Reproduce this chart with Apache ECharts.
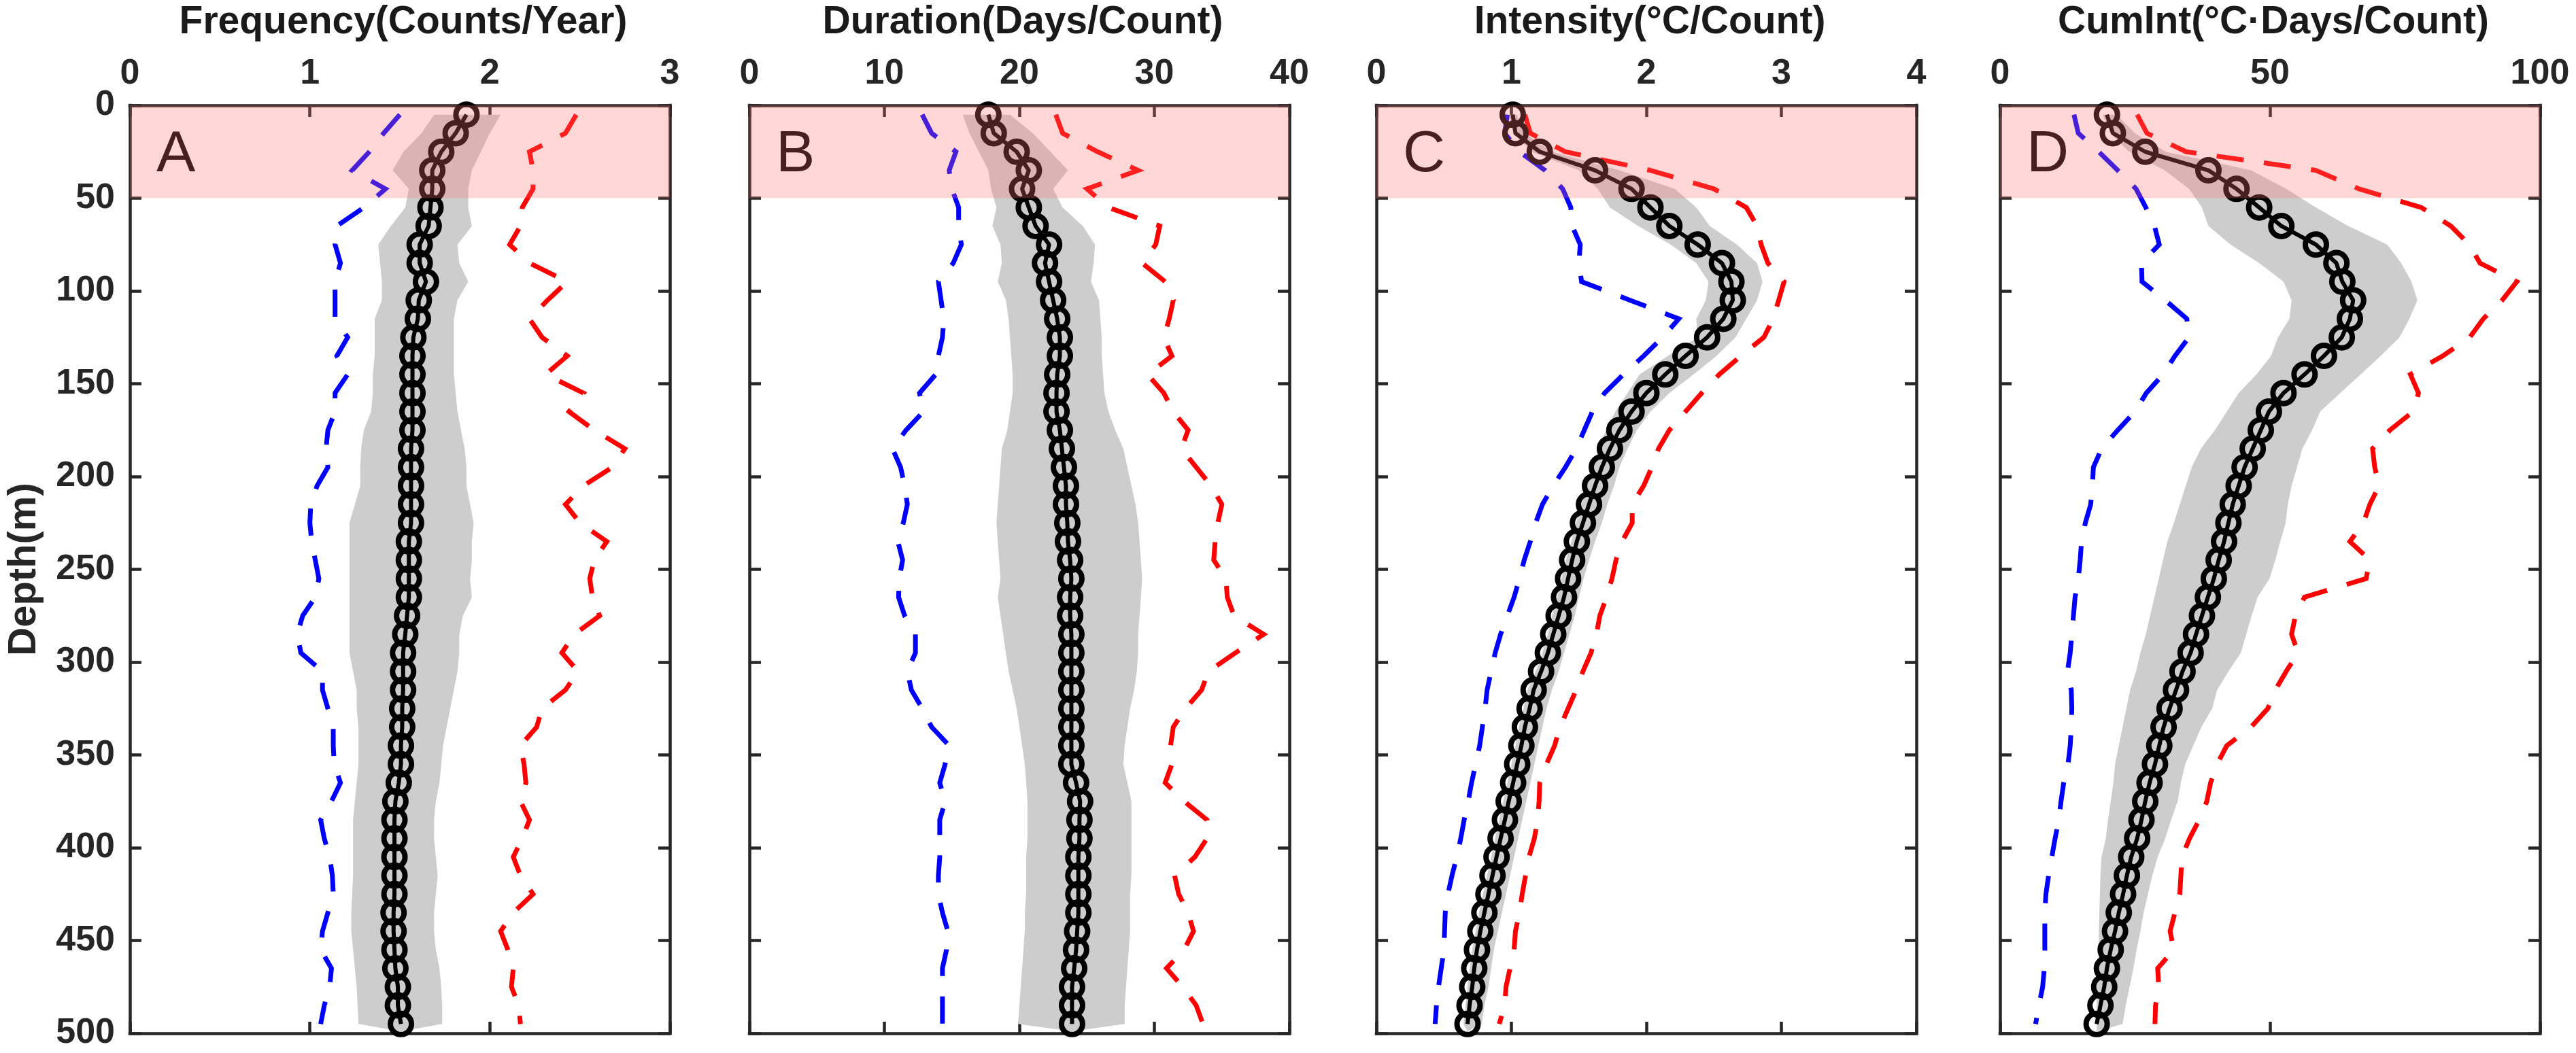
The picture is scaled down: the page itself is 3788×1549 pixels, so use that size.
<!DOCTYPE html>
<html><head><meta charset="utf-8">
<script src="https://cdn.jsdelivr.net/npm/echarts@6/dist/echarts.min.js"></script>
<style>html,body{margin:0;padding:0;background:#fff;}#c{width:3788px;height:1549px;}</style>
</head><body><div id="c"></div>
<script>
const depths = [5,15,25,35,45,55,65,75,85,95,105,115,125,135,145,155,165,175,185,195,205,215,225,235,245,255,265,275,285,295,305,315,325,335,345,355,365,375,385,395,405,415,425,435,445,455,465,475,485,495];
const depthTicks = [0,50,100,150,200,250,300,350,400,450,500];
const titles = ['Frequency(Counts/Year)','Duration(Days/Count)','Intensity(°C/Count)','CumInt(°C·Days/Count)'];
const letters = ['A','B','C','D'];
const xMax = [3,40,4,100];
const xStep = [1,10,1,50];

// Panel A: Frequency
const freqMean = [1.87,1.81,1.73,1.68,1.68,1.67,1.66,1.61,1.61,1.645,
 1.605,1.60,1.575,1.57,1.57,1.57,1.57,1.57,1.562,1.562,
 1.562,1.562,1.562,1.55,1.55,1.55,1.55,1.54,1.53,1.518,
 1.518,1.518,1.513,1.513,1.506,1.506,1.494,1.475,1.47,1.47,
 1.47,1.47,1.47,1.465,1.465,1.47,1.475,1.489,1.489,1.506];
const freqLow = [1.69,1.62,1.52,1.46,1.55,1.53,1.45,1.38,1.39,1.40,
 1.40,1.36,1.36,1.36,1.35,1.35,1.34,1.30,1.285,1.28,
 1.28,1.25,1.22,1.22,1.22,1.22,1.22,1.22,1.22,1.22,
 1.24,1.26,1.26,1.27,1.27,1.27,1.26,1.25,1.24,1.24,
 1.24,1.24,1.235,1.23,1.23,1.24,1.25,1.26,1.265,1.27];
const freqHigh = [2.06,2.00,1.95,1.90,1.88,1.88,1.90,1.82,1.83,1.88,
 1.82,1.80,1.80,1.80,1.80,1.81,1.82,1.84,1.86,1.87,
 1.87,1.89,1.91,1.90,1.90,1.89,1.90,1.85,1.83,1.83,
 1.82,1.80,1.78,1.76,1.74,1.73,1.72,1.70,1.69,1.69,
 1.70,1.71,1.70,1.69,1.69,1.70,1.72,1.73,1.735,1.735];
const freqBlue = [1.50,1.41,1.33,1.235,1.42,1.30,1.15,1.14,1.17,1.14,
 1.14,1.14,1.21,1.15,1.21,1.14,1.14,1.10,1.09,1.10,
 1.04,1.005,1.00,1.01,1.03,1.05,1.03,0.96,0.93,0.95,
 1.07,1.07,1.10,1.13,1.13,1.135,1.17,1.12,1.06,1.08,
 1.11,1.125,1.13,1.10,1.07,1.06,1.12,1.11,1.08,1.06];
const freqRed = [2.48,2.42,2.22,2.24,2.24,2.18,2.17,2.11,2.22,2.43,
 2.32,2.22,2.29,2.43,2.31,2.52,2.44,2.58,2.75,2.68,
 2.52,2.42,2.50,2.65,2.58,2.555,2.57,2.61,2.47,2.40,
 2.49,2.42,2.29,2.26,2.17,2.19,2.20,2.17,2.22,2.18,
 2.13,2.17,2.24,2.13,2.06,2.10,2.13,2.12,2.16,2.17];

// Panel B: Duration
const durMean = [17.7,18.1,19.8,20.7,20.2,20.7,21.2,22.2,21.9,22.2,
 22.5,22.8,23.0,23.0,22.8,22.75,22.75,23.0,23.15,23.3,
 23.45,23.45,23.55,23.6,23.76,23.85,23.76,23.76,23.85,23.85,
 23.85,23.85,23.85,23.85,23.85,23.85,24.2,24.5,24.45,24.45,
 24.37,24.37,24.37,24.37,24.28,24.2,24.06,23.9,23.9,23.9];
const durLow = [15.8,16.3,17.0,17.7,17.9,18.3,18.0,18.6,18.7,18.4,
 19.0,19.2,19.3,19.4,19.5,19.5,19.3,19.1,18.7,18.6,
 18.5,18.4,18.3,18.4,18.5,18.6,18.4,18.6,18.8,19.0,
 19.2,19.5,19.8,20.0,20.2,20.4,20.5,20.6,20.6,20.6,
 20.5,20.5,20.5,20.4,20.4,20.3,20.2,20.1,20.0,19.9];
const durHigh = [19.3,21.0,22.3,23.6,22.5,23.2,24.7,25.6,25.5,25.3,
 25.9,26.0,26.1,26.1,26.2,26.3,26.6,27.1,27.7,28.0,
 28.3,28.6,28.8,28.9,29.0,29.1,29.0,28.9,28.8,28.8,
 28.7,28.5,28.2,28.0,27.8,27.7,28.0,28.3,28.3,28.3,
 28.3,28.3,28.2,28.2,28.2,28.1,28.0,27.9,27.8,27.8];
const durBlue = [12.8,13.5,15.3,14.8,15.0,15.5,15.5,15.7,15.1,14.0,
 14.2,14.4,14.3,14.0,13.8,12.6,12.9,11.6,10.6,11.2,
 11.5,11.7,11.4,11.0,11.35,11.1,11.05,11.5,12.3,12.3,
 11.7,12.0,12.8,13.5,14.8,14.5,14.1,14.5,14.1,14.1,
 14.1,14.0,14.0,14.3,14.7,14.6,14.3,14.3,14.3,14.3];
const durRed = [22.7,23.2,25.8,28.8,25.0,26.6,30.4,30.1,29.1,30.8,
 31.4,31.1,30.7,31.3,29.5,30.7,31.4,32.5,32.0,33.1,
 34.2,35.0,34.7,34.5,34.4,35.3,35.4,35.9,38.1,36.0,
 34.0,33.5,32.3,31.4,31.2,31.3,30.8,32.2,33.9,33.9,
 33.0,31.5,31.8,32.5,32.9,32.2,30.9,32.1,33.1,33.6];

// Panel C: Intensity
const intMean = [1.01,1.03,1.21,1.62,1.89,2.03,2.17,2.38,2.56,2.63,
 2.64,2.57,2.45,2.29,2.14,2.00,1.89,1.80,1.73,1.67,
 1.62,1.575,1.53,1.485,1.45,1.42,1.39,1.35,1.31,1.27,
 1.22,1.165,1.135,1.10,1.074,1.043,1.013,0.98,0.952,0.92,
 0.89,0.86,0.83,0.80,0.77,0.745,0.725,0.71,0.69,0.675];
const intLow = [0.98,1.02,1.15,1.50,1.64,1.73,1.94,2.18,2.37,2.46,
 2.44,2.37,2.38,2.16,1.95,1.86,1.77,1.70,1.65,1.60,
 1.56,1.52,1.48,1.445,1.405,1.37,1.34,1.30,1.27,1.23,
 1.18,1.12,1.09,1.055,1.03,1.00,0.97,0.94,0.91,0.88,
 0.85,0.82,0.79,0.76,0.735,0.71,0.69,0.675,0.66,0.645];
const intHigh = [1.04,1.10,1.30,1.80,2.21,2.37,2.47,2.67,2.82,2.86,
 2.82,2.74,2.66,2.52,2.35,2.17,2.03,1.93,1.86,1.80,
 1.76,1.71,1.67,1.62,1.575,1.535,1.50,1.47,1.43,1.39,
 1.35,1.30,1.26,1.23,1.20,1.17,1.14,1.11,1.08,1.05,
 1.02,0.99,0.96,0.93,0.90,0.87,0.85,0.83,0.80,0.78];
const intBlue = [0.97,0.95,1.06,1.25,1.38,1.44,1.45,1.51,1.50,1.52,
 1.88,2.24,2.12,1.98,1.83,1.69,1.60,1.54,1.48,1.40,
 1.31,1.23,1.18,1.14,1.095,1.06,1.02,0.97,0.92,0.88,
 0.85,0.82,0.805,0.785,0.765,0.735,0.705,0.68,0.65,0.625,
 0.595,0.56,0.53,0.51,0.505,0.50,0.48,0.46,0.445,0.435];
const intRed = [1.10,1.14,1.40,2.03,2.50,2.74,2.82,2.85,2.90,3.02,
 2.98,2.94,2.87,2.70,2.54,2.41,2.29,2.17,2.09,2.04,
 1.98,1.895,1.895,1.82,1.775,1.745,1.705,1.655,1.63,1.59,
 1.53,1.48,1.42,1.36,1.32,1.26,1.21,1.205,1.195,1.17,
 1.13,1.105,1.08,1.06,1.03,1.02,0.99,0.96,0.95,0.91];

// Panel D: Cumulative intensity
const cumMean = [19.8,20.9,26.9,38.6,43.8,48.0,52.1,58.5,62.3,63.4,
 65.4,64.8,63.3,60.0,56.4,52.5,49.8,48.3,46.8,45.3,
 44.2,43.1,42.3,41.5,40.5,39.6,38.5,37.4,36.3,35.3,
 33.8,32.6,31.4,30.3,29.5,28.7,27.7,26.9,26.2,25.4,
 24.3,23.5,22.8,22.0,21.3,20.5,19.8,19.3,18.6,17.9];
const cumLow = [19.0,20.5,23.9,30.5,35.0,37.4,38.6,42.7,48.0,52.5,
 54.0,53.6,51.5,50.2,47.5,44.2,42.0,39.8,37.2,35.5,
 34.4,33.3,32.2,31.0,30.2,29.4,28.6,27.8,27.0,26.0,
 25.2,24.1,23.4,22.7,22.0,21.3,21.0,20.5,20.0,19.6,
 18.8,18.6,18.5,18.4,18.3,18.3,18.2,18.0,17.9,17.9];
const cumHigh = [21.6,25.0,30.7,46.5,53.0,58.5,64.5,71.7,74.3,76.2,
 77.3,75.8,74.0,70.5,66.8,63.0,59.3,57.8,56.0,55.0,
 54.0,53.3,52.9,51.9,51.0,49.9,47.7,46.6,45.6,44.6,
 42.3,40.2,39.3,37.3,35.8,34.3,33.5,32.9,31.7,30.6,
 29.2,28.2,27.4,26.6,26.0,25.3,24.7,24.0,23.3,22.7];
const cumBlue = [13.7,14.5,18.3,21.8,25.2,27.0,28.6,29.5,26.2,26.3,
 30.6,34.6,35.0,32.4,30.2,27.1,25.0,21.8,18.8,17.3,
 17.1,16.8,15.8,15.1,14.85,14.5,13.9,13.6,13.3,13.0,
 12.5,13.2,13.3,13.2,13.0,12.6,11.8,11.3,10.9,10.2,
 9.6,9.0,8.5,8.3,8.3,8.3,8.2,7.9,7.2,6.6];
const cumRed = [25.4,27.2,34.5,58.5,66.5,78.0,83.5,86.9,88.9,95.7,
 93.0,89.5,87.0,82.0,76.0,77.5,76.5,72.2,69.0,69.4,
 70.2,68.5,67.3,64.8,68.5,67.8,56.4,54.7,54.0,55.2,
 53.0,51.0,49.6,46.5,42.0,40.2,39.0,38.3,36.9,35.1,
 33.7,33.5,33.3,32.4,31.5,32.2,29.2,29.4,28.8,28.7];

const panels = [
  {mean:freqMean, low:freqLow, high:freqHigh, blue:freqBlue, red:freqRed},
  {mean:durMean, low:durLow, high:durHigh, blue:durBlue, red:durRed},
  {mean:intMean, low:intLow, high:intHigh, blue:intBlue, red:intRed},
  {mean:cumMean, low:cumLow, high:cumHigh, blue:cumBlue, red:cumRed}
];

const LEFTS = [191, 1102, 2024, 2941];
const GW = 794, GT = 155, GH = 1365;
const FONT = "'Liberation Sans', Arial, Helvetica, sans-serif";
const AX = '#262626';
const SURFACE_DEPTH = 50;

const chart = echarts.init(document.getElementById('c'), null, {renderer:'canvas', width:3788, height:1549});
const option = {backgroundColor:'#ffffff', animation:false, grid:[], xAxis:[], yAxis:[], series:[], title:[]};

function axLine(){ return {show:true, onZero:false, lineStyle:{color:AX, width:4.5, cap:'square'}}; }
function axTick(){ return {show:true, inside:true, length:17, lineStyle:{color:AX, width:4.5}}; }
const tickFont = {color:AX, fontSize:52, fontWeight:'bold', fontFamily:FONT};

panels.forEach((p, i) => {
  const n = depths.length;
  option.grid.push({left:LEFTS[i], top:GT, width:GW, height:GH});
  option.xAxis.push({gridIndex:i, type:'value', position:'top', min:0, max:xMax[i], interval:xStep[i],
    axisLine:axLine(), axisTick:axTick(), splitLine:{show:false},
    axisLabel:Object.assign({show:true, margin:20}, tickFont)});
  option.xAxis.push({gridIndex:i, type:'value', position:'bottom', min:0, max:xMax[i], interval:xStep[i],
    axisLine:axLine(), axisTick:axTick(), splitLine:{show:false}, axisLabel:{show:false}});
  option.yAxis.push({gridIndex:i, type:'value', position:'left', inverse:true, min:0, max:500, interval:50,
    axisLine:axLine(), axisTick:axTick(), splitLine:{show:false},
    axisLabel:Object.assign({show:i===0, margin:22}, tickFont),
    name:i===0?'Depth(m)':'', nameLocation:'middle', nameRotate:90, nameGap:126,
    nameTextStyle:{color:AX, fontSize:58, fontWeight:'bold', fontFamily:FONT}});
  option.yAxis.push({gridIndex:i, type:'value', position:'right', inverse:true, min:0, max:500, interval:50,
    axisLine:axLine(), axisTick:axTick(), splitLine:{show:false}, axisLabel:{show:false}});

  const xi = 2*i, yi = 2*i;
  // shaded range
  option.series.push({type:'custom', xAxisIndex:xi, yAxisIndex:yi, z:1, silent:true, clip:true,
    data: depths.map((d,k)=>[p.low[k], p.high[k], d]),
    encode:{x:[0,1], y:2},
    renderItem:(params, api) => {
      if (params.dataIndex !== 0) return null;
      const pts = [];
      for (let k=0;k<n;k++) pts.push(api.coord([p.low[k], depths[k]]));
      pts.push(api.coord([p.mean[n-1], 499]));
      for (let k=n-1;k>=0;k--) pts.push(api.coord([p.high[k], depths[k]]));
      return {type:'polygon', shape:{points:pts}, style:{fill:'#cdcdcd'}};
    }});
  // blue dashed
  option.series.push({type:'line', xAxisIndex:xi, yAxisIndex:yi, z:2, silent:true, showSymbol:false, symbol:'none',
    data: depths.map((d,k)=>[p.blue[k], d]),
    lineStyle:{color:'#0000ff', width:7, type:[40,30], cap:'butt', join:'miter'}});
  // red dashed
  option.series.push({type:'line', xAxisIndex:xi, yAxisIndex:yi, z:2, silent:true, showSymbol:false, symbol:'none',
    data: depths.map((d,k)=>[p.red[k], d]),
    lineStyle:{color:'#ff0000', width:7, type:[40,30], cap:'butt', join:'miter'}});
  // mean with circle markers
  option.series.push({type:'line', xAxisIndex:xi, yAxisIndex:yi, z:3, silent:true, clip:false,
    data: depths.map((d,k)=>[p.mean[k], d]),
    symbol:'circle', symbolSize:31, showAllSymbol:true,
    itemStyle:{color:'rgba(0,0,0,0)', borderColor:'#000', borderWidth:8},
    lineStyle:{color:'#000', width:6}});
  // surface layer overlay (0-50 m)
  option.series.push({type:'custom', xAxisIndex:xi, yAxisIndex:yi, z:10, silent:true,
    data:[[0, 0, xMax[i], SURFACE_DEPTH]],
    renderItem:(params, api) => {
      const a = api.coord([api.value(0), api.value(1)]);
      const b = api.coord([api.value(2), api.value(3)]);
      return {type:'rect', shape:{x:Math.min(a[0],b[0]), y:Math.min(a[1],b[1]), width:Math.abs(b[0]-a[0]), height:Math.abs(b[1]-a[1])},
        style:{fill:'rgba(255,110,110,0.28)'}};
    }});

  option.title.push({text:titles[i], left:LEFTS[i]+GW/2, top:0, textAlign:'center',
    textStyle:{color:'#1a1a1a', fontSize:57, fontWeight:'bold', fontFamily:FONT}});
  option.title.push({text:letters[i], left:LEFTS[i]+34, top:180,
    textStyle:{color:'#000', fontSize:86, fontWeight:'normal', fontFamily:FONT}});
});

chart.setOption(option);
</script></body></html>
